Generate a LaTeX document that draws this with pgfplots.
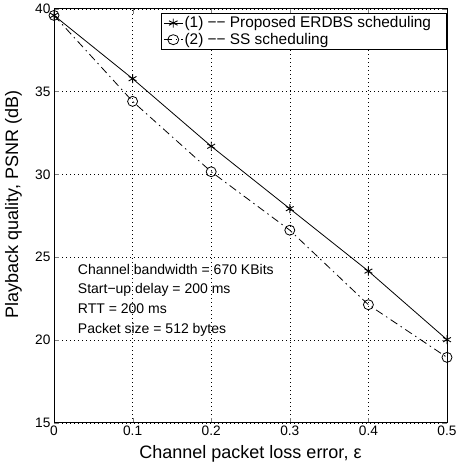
\documentclass[border=0pt]{standalone}
\usepackage{fontspec}
\setmainfont{Liberation Sans}
\usepackage{pgfplots}
\pgfplotsset{compat=1.18}

\begin{document}
\begin{tikzpicture}
\begin{axis}[
    scale only axis,
    width=393pt, height=414pt,
    xmin=0, xmax=0.5, ymin=15, ymax=40,
    xtick={0,0.1,0.2,0.3,0.4,0.5},
    ytick={15,20,25,30,35,40},
    /pgf/number format/assume math mode=true,
    /pgf/number format/fixed,
    tick label style={font=\fontsize{13.7}{16}\selectfont},
    tick align=inside,
    major tick length=5pt,
    axis line style={line width=1pt},
    grid=major,
    major grid style={black, line width=0.5pt, dash pattern=on 1pt off 3pt},
    xlabel={Channel packet loss error, ε},
    ylabel={Playback quality, PSNR (dB)},
    every axis x label/.style={at={(axis description cs:0.5,-0.0874)}, anchor=base,
        font=\fontsize{18}{21}\selectfont},
    every axis y label/.style={at={(axis description cs:-0.0916,0.527)}, anchor=base, rotate=90,
        font=\fontsize{18}{21}\selectfont},
    legend style={font=\fontsize{15.4}{18}\selectfont, draw=black, line width=0.8pt,
        at={(1,1)}, anchor=north east, yshift=-4pt, inner xsep=2pt, inner ysep=1.5pt,
        nodes={inner xsep=1.5pt}, row sep=0pt},
    legend image post style={xscale=1.1},
    legend cell align=left,
]
\addplot[black, line width=0.8pt, mark=asterisk, mark size=4.5pt,
    mark options={solid, line width=0.9pt}] coordinates {
    (0,39.6) (0.1,35.78) (0.2,31.7) (0.3,27.93) (0.4,24.16) (0.5,20.02)};
\addlegendentry{(1) −− Proposed ERDBS scheduling\hspace*{12pt}}
\addplot[black, line width=0.8pt, dash pattern=on 8pt off 4pt on 1.5pt off 4pt,
    mark=o, mark size=5pt, mark options={solid, line width=0.8pt}] coordinates {
    (0,39.6) (0.1,34.41) (0.2,30.16) (0.3,26.63) (0.4,22.13) (0.5,18.95)};
\addlegendentry{(2) −− SS scheduling}
\node[anchor=base west, inner sep=0pt, font=\fontsize{14}{17}\selectfont] at (axis cs:0.0302,23.97) {Channel bandwidth = 670 KBits};
\node[anchor=base west, inner sep=0pt, font=\fontsize{14}{17}\selectfont] at (axis cs:0.0302,22.81) {Start−up delay = 200 ms};
\node[anchor=base west, inner sep=0pt, font=\fontsize{14}{17}\selectfont] at (axis cs:0.0302,21.62) {RTT = 200 ms};
\node[anchor=base west, inner sep=0pt, font=\fontsize{14}{17}\selectfont] at (axis cs:0.0302,20.42) {Packet size = 512 bytes};
\end{axis}
\pgfresetboundingbox
\path[use as bounding box] (-54pt,-47.2pt) rectangle (404pt,422.8pt);
\end{tikzpicture}
\end{document}
